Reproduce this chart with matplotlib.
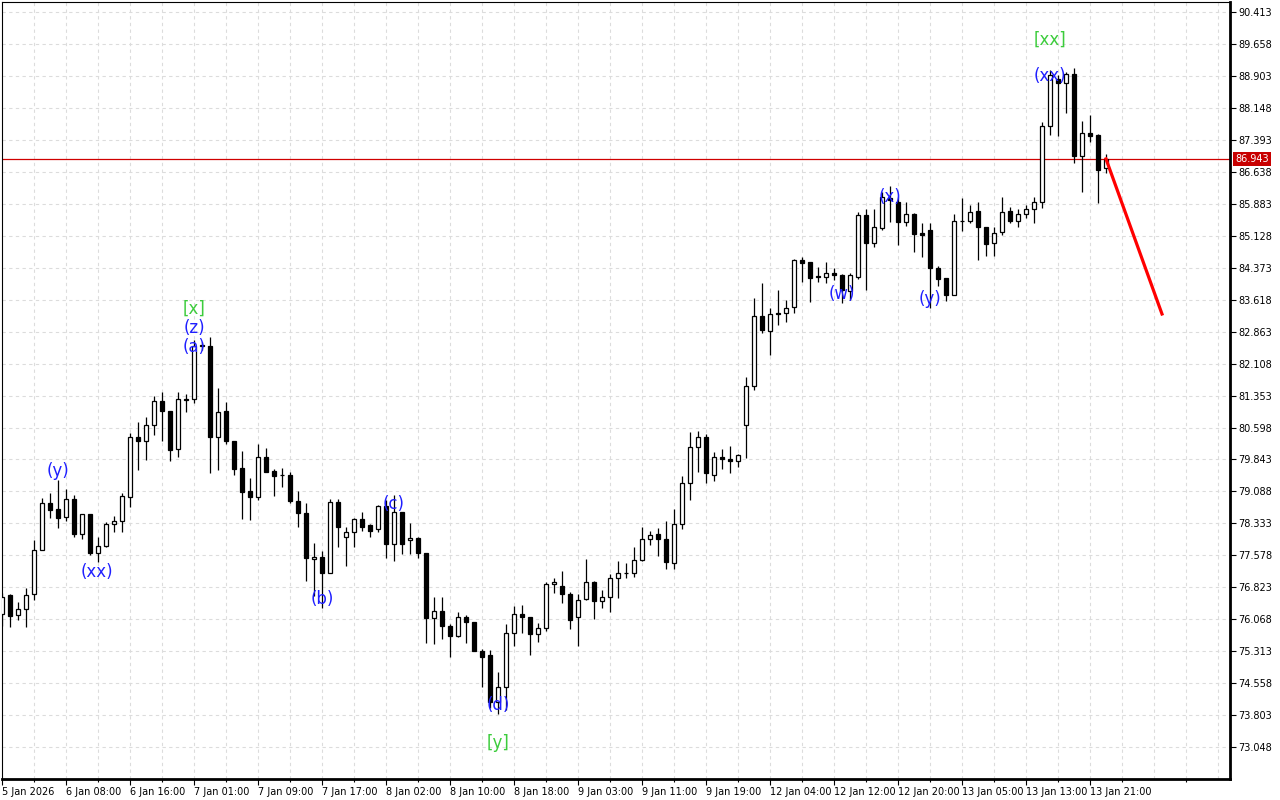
import matplotlib
matplotlib.use("Agg")
import matplotlib.pyplot as plt
import matplotlib.transforms as mtransforms
import numpy as np

# hourly candles
opens = [76.19, 76.64, 76.17, 76.31, 76.66, 77.70, 78.82, 78.67, 78.48, 78.91,
         78.08, 78.55, 77.63, 77.80, 78.32, 78.39, 78.96, 80.37, 80.28, 80.66,
         81.22, 80.99, 80.09, 81.27, 81.27, 82.52, 82.52, 80.37, 80.99, 80.28,
         79.64, 79.10, 78.96, 79.90, 79.57, 79.48, 79.48, 78.86, 78.58, 77.49,
         77.54, 77.16, 78.84, 78.01, 78.13, 78.44, 78.29, 78.20, 78.74, 77.84,
         78.60, 77.94, 77.98, 77.63, 76.10, 76.26, 75.91, 75.67, 76.12, 76.00,
         75.32, 75.22, 74.11, 74.47, 75.74, 76.19, 76.12, 75.72, 75.86, 76.90,
         76.85, 76.66, 76.12, 76.55, 76.95, 76.50, 76.59, 77.04, 77.16, 77.16,
         77.47, 77.96, 78.08, 77.96, 77.40, 78.32, 79.29, 80.14, 80.37, 79.48,
         79.90, 79.85, 79.81, 80.66, 81.58, 83.23, 82.88, 83.30, 83.30, 83.44,
         84.55, 84.51, 84.18, 84.15, 84.25, 84.20, 83.82, 84.15, 85.62, 84.96,
         85.31, 86.02, 85.92, 85.45, 85.64, 85.19, 85.26, 84.37, 84.13, 83.73,
         85.48, 85.48, 85.71, 85.34, 84.96, 85.21, 85.71, 85.48, 85.64, 85.76,
         85.92, 87.72, 88.83, 88.74, 88.95, 87.01, 87.55, 87.51, 86.73]
closes = [76.59, 76.15, 76.31, 76.64, 77.70, 78.82, 78.65, 78.46, 78.91, 78.08,
          78.55, 77.63, 77.80, 78.32, 78.39, 78.98, 80.37, 80.28, 80.66, 81.22,
          80.99, 80.07, 81.27, 81.25, 82.52, 82.55, 80.37, 80.97, 80.28, 79.62,
          79.07, 78.96, 79.90, 79.55, 79.45, 79.48, 78.86, 78.58, 77.52, 77.54,
          77.16, 78.84, 78.24, 78.13, 78.44, 78.24, 78.15, 78.74, 77.84, 78.60,
          77.84, 77.98, 77.63, 76.10, 76.26, 75.91, 75.67, 76.12, 76.00, 75.32,
          75.18, 74.11, 74.47, 75.74, 76.19, 76.12, 75.72, 75.86, 76.90, 76.95,
          76.66, 76.05, 76.52, 76.95, 76.50, 76.59, 77.04, 77.16, 77.16, 77.47,
          77.96, 78.06, 77.96, 77.42, 78.32, 79.29, 80.14, 80.37, 79.52, 79.90,
          79.85, 79.81, 79.95, 81.58, 83.23, 82.90, 83.28, 83.28, 83.42, 84.55,
          84.48, 84.13, 84.15, 84.25, 84.20, 83.85, 84.20, 85.62, 84.96, 85.34,
          86.04, 85.97, 85.45, 85.64, 85.17, 85.14, 84.37, 84.11, 83.73, 85.48,
          85.48, 85.69, 85.34, 84.93, 85.19, 85.69, 85.48, 85.64, 85.76, 85.92,
          87.72, 88.93, 88.74, 88.95, 87.01, 87.55, 87.48, 86.68, 86.943]
highs = [76.69, 76.66, 76.48, 76.81, 77.94, 78.93, 79.05, 79.36, 79.15, 79.00,
         78.55, 78.55, 78.01, 78.37, 78.51, 79.05, 80.47, 80.73, 80.85, 81.34,
         81.44, 80.99, 81.44, 81.39, 82.66, 82.62, 82.73, 81.53, 81.20, 80.28,
         80.04, 79.40, 80.21, 80.11, 79.62, 79.64, 79.55, 79.10, 78.82, 77.87,
         77.68, 78.91, 78.91, 78.24, 78.46, 78.60, 78.32, 78.77, 78.89, 79.00,
         78.60, 78.34, 78.01, 77.63, 76.59, 76.59, 75.96, 76.24, 76.17, 76.00,
         75.36, 75.34, 74.82, 75.96, 76.38, 76.40, 76.12, 75.98, 76.95, 77.04,
         77.21, 76.71, 76.66, 77.49, 76.97, 76.76, 77.14, 77.44, 77.40, 77.77,
         78.24, 78.15, 78.22, 78.39, 78.67, 79.45, 80.49, 80.51, 80.45, 80.02,
         80.09, 80.16, 79.97, 81.79, 83.66, 84.01, 83.42, 83.85, 83.61, 84.58,
         84.63, 84.51, 84.39, 84.51, 84.36, 84.22, 84.25, 85.69, 85.76, 85.76,
         86.16, 86.30, 86.04, 85.92, 85.66, 85.43, 85.43, 84.41, 84.13, 85.64,
         86.02, 85.85, 85.92, 85.34, 85.34, 86.04, 85.81, 85.76, 85.85, 86.04,
         87.82, 89.04, 88.93, 88.99, 89.09, 87.84, 87.98, 87.53, 87.06]
lows = [75.91, 75.89, 76.05, 75.89, 76.52, 77.70, 78.46, 78.22, 78.39, 78.01,
        77.96, 77.58, 77.42, 77.77, 78.13, 78.13, 78.72, 79.59, 79.83, 80.42,
        80.28, 79.81, 79.90, 80.97, 81.18, 82.43, 79.52, 79.59, 80.21, 79.48,
        78.44, 78.41, 78.89, 79.55, 78.98, 79.19, 78.82, 78.24, 76.97, 76.62,
        76.33, 77.16, 77.77, 77.33, 77.77, 78.15, 78.01, 78.13, 77.52, 77.44,
        77.61, 77.61, 77.52, 75.51, 75.48, 75.60, 75.18, 75.65, 75.51, 75.32,
        74.47, 73.97, 73.83, 73.92, 75.44, 75.74, 75.22, 75.53, 75.79, 76.69,
        76.45, 75.84, 75.44, 76.52, 76.07, 76.33, 76.24, 76.57, 77.04, 77.07,
        77.44, 77.82, 77.56, 77.26, 77.26, 78.20, 78.89, 79.55, 79.29, 79.33,
        79.62, 79.52, 79.66, 79.88, 81.48, 82.83, 82.31, 83.02, 83.09, 83.30,
        84.04, 83.56, 84.04, 84.01, 84.08, 83.54, 83.61, 84.11, 83.85, 84.86,
        85.26, 85.45, 84.91, 85.36, 84.74, 84.63, 83.42, 83.94, 83.59, 83.73,
        85.24, 85.43, 84.55, 84.65, 84.65, 85.14, 85.43, 85.34, 85.55, 85.43,
        85.78, 87.51, 87.48, 88.03, 86.85, 86.16, 87.34, 85.90, 86.61]

time_labels = ["5 Jan 2026", "6 Jan 08:00", "6 Jan 16:00", "7 Jan 01:00", "7 Jan 09:00",
               "7 Jan 17:00", "8 Jan 02:00", "8 Jan 10:00", "8 Jan 18:00", "9 Jan 03:00",
               "9 Jan 11:00", "9 Jan 19:00", "12 Jan 04:00", "12 Jan 12:00", "12 Jan 20:00",
               "13 Jan 05:00", "13 Jan 13:00", "13 Jan 21:00"]

price_ticks = [73.048, 73.803, 74.558, 75.313, 76.068, 76.823, 77.578, 78.333, 79.088,
               79.843, 80.598, 81.353, 82.108, 82.863, 83.618, 84.373, 85.128, 85.883,
               86.638, 87.393, 88.148, 88.903, 89.658, 90.413]

current_price = 86.943

# wave marks: (text, bar, price, colour key)
wave_text = ["(y)", "(xx)", "[x]", "(z)", "(a)", "(b)", "(c)", "(d)", "[y]",
             "(w)", "(x)", "(y)", "(xx)", "[xx]"]
wave_bar = [7, 11.9, 24, 24, 24, 40, 49, 62, 62, 105, 111, 116, 131, 131]
wave_price = [79.57, 77.18, 83.40, 82.95, 82.50, 76.55, 78.79, 74.04, 73.15,
              83.75, 86.04, 83.63, 88.90, 89.75]
wave_kind = ["minor", "minor", "major", "minor", "minor", "minor", "minor", "minor", "major",
             "minor", "minor", "minor", "minor", "major"]

forecast_bar = [138, 145]
forecast_price = [86.943, 83.28]

fig = plt.figure(figsize=(12.8, 8), dpi=100)
ax = fig.add_axes([2/1280, 21/800, 1228/1280, 777/800])

x = np.arange(len(opens))
o = np.array(opens); c = np.array(closes)
h = np.array(highs); l = np.array(lows)
up = c >= o

ax.vlines(x, l, h, color="black", lw=0.9, zorder=2)
ax.bar(x[up], c[up] - o[up], bottom=o[up], width=0.62, color="white",
       edgecolor="black", linewidth=0.9, zorder=3)
ax.bar(x[~up], c[~up] - o[~up], bottom=o[~up], width=0.62, color="black",
       edgecolor="black", linewidth=0.9, zorder=3)

ax.axhline(current_price, color="#d00000", lw=0.9, zorder=1)
ax.plot(forecast_bar, forecast_price, color="#ff0000", lw=2.3, zorder=4)

colors = {"minor": "#1f1fff", "major": "#3ccc3c"}
for t, b, p, k in zip(wave_text, wave_bar, wave_price, wave_kind):
    ax.text(b, p, t, color=colors[k], fontsize=12, ha="center", va="center", zorder=5)

ax.set_xlim(0, 153.5)
ax.set_ylim(72.295, 90.65)

xt = np.arange(0, len(opens), 8)
ax.set_xticks(xt)
ax.set_xticklabels(time_labels, fontsize=7, ha="left")
ax.set_xticks(np.arange(4, 154, 8), minor=True)
ax.set_yticks(price_ticks)
ax.set_yticklabels(["%.3f" % v for v in price_ticks], fontsize=7)
ax.yaxis.tick_right()
ax.tick_params(axis="both", which="both", direction="out", length=4, width=0.8, pad=2)
ax.tick_params(axis="x", which="minor", length=2)

# grid
for v in price_ticks:
    ax.axhline(v, color="#dcdcdc", lw=0.8, ls=(0, (3, 3)), zorder=0)
for v in np.arange(4, 154, 4):
    ax.axvline(v, color="#dcdcdc", lw=0.8, ls=(0, (3, 3)), zorder=0)

for s in ["top", "left"]:
    ax.spines[s].set_linewidth(0.8)
for s in ["right", "bottom"]:
    ax.spines[s].set_linewidth(2)

trans = mtransforms.blended_transform_factory(ax.transAxes, ax.transData)
ax.text(1.0045, current_price, "%.3f" % current_price, transform=trans, fontsize=7,
        color="white", va="center", ha="left",
        bbox=dict(facecolor="#c80000", edgecolor="none", pad=1.6), zorder=6, clip_on=False)

fig.savefig("out.png", dpi=100)
